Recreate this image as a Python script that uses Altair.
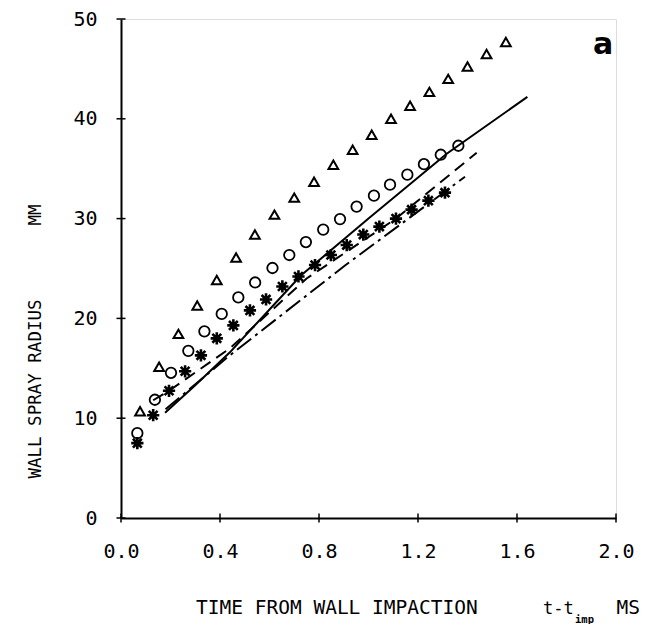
import altair as alt
import pandas as pd

# ---- data ----
tri_x = [0.077, 0.154, 0.232, 0.308, 0.387, 0.465, 0.541, 0.620, 0.700, 0.780,
         0.858, 0.936, 1.013, 1.091, 1.168, 1.246, 1.322, 1.400, 1.477, 1.555]
tri_y = [10.7, 15.15, 18.45, 21.3, 23.85, 26.1, 28.4, 30.4, 32.1, 33.7,
         35.4, 36.9, 38.4, 40.0, 41.3, 42.7, 44.0, 45.25, 46.5, 47.7]

circ_x = [0.066, 0.137, 0.202, 0.272, 0.337, 0.407, 0.474, 0.542, 0.612, 0.680,
          0.747, 0.817, 0.885, 0.952, 1.022, 1.087, 1.157, 1.224, 1.292, 1.363]
circ_y = [8.5, 11.85, 14.55, 16.75, 18.7, 20.45, 22.1, 23.6, 25.05, 26.35,
          27.65, 28.9, 29.95, 31.2, 32.3, 33.4, 34.4, 35.45, 36.4, 37.3]

star_x = [0.066, 0.130, 0.194, 0.259, 0.323, 0.387, 0.454, 0.521, 0.586, 0.652,
          0.717, 0.784, 0.848, 0.912, 0.979, 1.044, 1.111, 1.174, 1.242, 1.309]
star_y = [7.5, 10.3, 12.75, 14.7, 16.3, 18.0, 19.3, 20.8, 21.9, 23.2,
          24.2, 25.35, 26.35, 27.35, 28.4, 29.2, 30.0, 30.9, 31.8, 32.6]

solid_x = [0.178, 0.30, 0.44, 0.727, 1.0, 1.316, 1.642]
solid_y = [10.55, 13.3, 16.6, 24.3, 30.0, 36.5, 42.2]

dash_x = [0.13, 0.194, 0.44, 0.75, 1.111, 1.437]
dash_y = [11.8, 12.75, 17.0, 24.0, 30.0, 36.6]

dashdot_x = [0.18, 0.44, 0.905, 1.39]
dashdot_y = [10.9, 16.3, 25.3, 34.2]

x_ticks = [0.0, 0.4, 0.8, 1.2, 1.6, 2.0]
y_ticks = [0, 10, 20, 30, 40, 50]

y_title = "WALL SPRAY RADIUS"
y_unit = "MM"
x_title = "TIME FROM WALL IMPACTION"
x_var = "t-t"
x_sub = "imp"
x_unit = "MS"
panel_label = "a"

FONT = "DejaVu Sans Mono"

# ---- chart ----
xs = alt.Scale(domain=[0, 2], nice=False, zero=False)
ys = alt.Scale(domain=[0, 50], nice=False, zero=False)

X = alt.X("x:Q", scale=xs, axis=alt.Axis(
    values=x_ticks, format=".1f", title=None, grid=False,
    ticks=False, domainColor="black", domainWidth=2,
    labelFont=FONT, labelFontSize=20, labelColor="black", labelPadding=23,
    labelFlush=False))
Y = alt.Y("y:Q", scale=ys, axis=alt.Axis(
    values=y_ticks, title=None, grid=False,
    ticks=False, domainColor="black", domainWidth=2,
    labelFont=FONT, labelFontSize=20, labelColor="black", labelPadding=24,
    labelFlush=False))

tri_df = pd.DataFrame({"x": tri_x, "y": tri_y})
circ_df = pd.DataFrame({"x": circ_x, "y": circ_y})
star_df = pd.DataFrame({"x": star_x, "y": star_y})
solid_df = pd.DataFrame({"x": solid_x, "y": solid_y})
dash_df = pd.DataFrame({"x": dash_x, "y": dash_y})
dashdot_df = pd.DataFrame({"x": dashdot_x, "y": dashdot_y})
xt_df = pd.DataFrame({"x": x_ticks})
yt_df = pd.DataFrame({"y": y_ticks})

# crossing tick marks on the axes
xticks = alt.Chart(xt_df).mark_tick(orient="vertical", color="black", thickness=1.5, size=9, opacity=1).encode(
    x=alt.X("x:Q", scale=xs), y=alt.value(499))
yticks = alt.Chart(yt_df).mark_tick(orient="horizontal", color="black", thickness=1.5, size=9, opacity=1).encode(
    y=alt.Y("y:Q", scale=ys), x=alt.value(0))

solid = alt.Chart(solid_df).mark_line(color="black", strokeWidth=2).encode(x=X, y=Y, order="x:Q")
dashed = alt.Chart(dash_df).mark_line(color="black", strokeWidth=2, strokeDash=[12, 7]).encode(x=X, y=Y, order="x:Q")
dashdot = alt.Chart(dashdot_df).mark_line(color="black", strokeWidth=2, strokeDash=[18, 5, 3, 5]).encode(x=X, y=Y, order="x:Q")

tri = alt.Chart(tri_df).mark_point(shape="triangle-up", filled=False, color="black",
                                   strokeWidth=2, size=95, opacity=1).encode(x=X, y=Y)
circ = alt.Chart(circ_df).mark_point(shape="circle", filled=False, color="black",
                                     strokeWidth=1.8, size=110, opacity=1).encode(x=X, y=Y)
star_path = "M-1,0L1,0M0,-1L0,1M-0.72,-0.72L0.72,0.72M-0.72,0.72L0.72,-0.72"
star = alt.Chart(star_df).mark_point(shape=star_path, filled=False, color="black",
                                     strokeWidth=2.6, size=150, opacity=1).encode(x=X, y=Y)
star_core = alt.Chart(star_df).mark_point(shape="circle", filled=True, color="black",
                                          size=40, opacity=1).encode(x=X, y=Y)


def label(txt, x, y, size, angle=0, align="left", weight="normal", font=FONT, baseline="alphabetic"):
    return alt.Chart(pd.DataFrame({"t": [txt]})).mark_text(
        font=font, fontSize=size, align=align, baseline=baseline, angle=angle,
        fontWeight=weight, color="black").encode(
        x=alt.value(x), y=alt.value(y), text="t:N")


texts = [
    label(y_title, -85, 370, 17.5, angle=270, align="center", baseline="middle"),
    label(y_unit, -85, 196, 17.5, angle=270, align="center", baseline="middle"),
    label(x_title, 75, 595, 19.5),
    label(x_var, 422, 595, 17),
    label(x_sub, 454, 604, 10.5, weight="bold"),
    label(x_unit, 519, 595, 19.5, align="right"),
    label(panel_label, 482, 26, 30, align="center", weight="bold", font="DejaVu Sans", baseline="middle"),
]

chart = alt.layer(solid, dashed, dashdot, tri, circ, star, star_core, xticks, yticks, *texts).properties(
    width=495, height=499,
    autosize=alt.AutoSizeParams(type="none"),
    padding={"left": 113, "top": 11, "right": 25, "bottom": 106},
).configure_view(stroke="black", strokeWidth=2).configure(background="white")

chart.save("out.html", embed_options={"renderer": "svg", "actions": False})
